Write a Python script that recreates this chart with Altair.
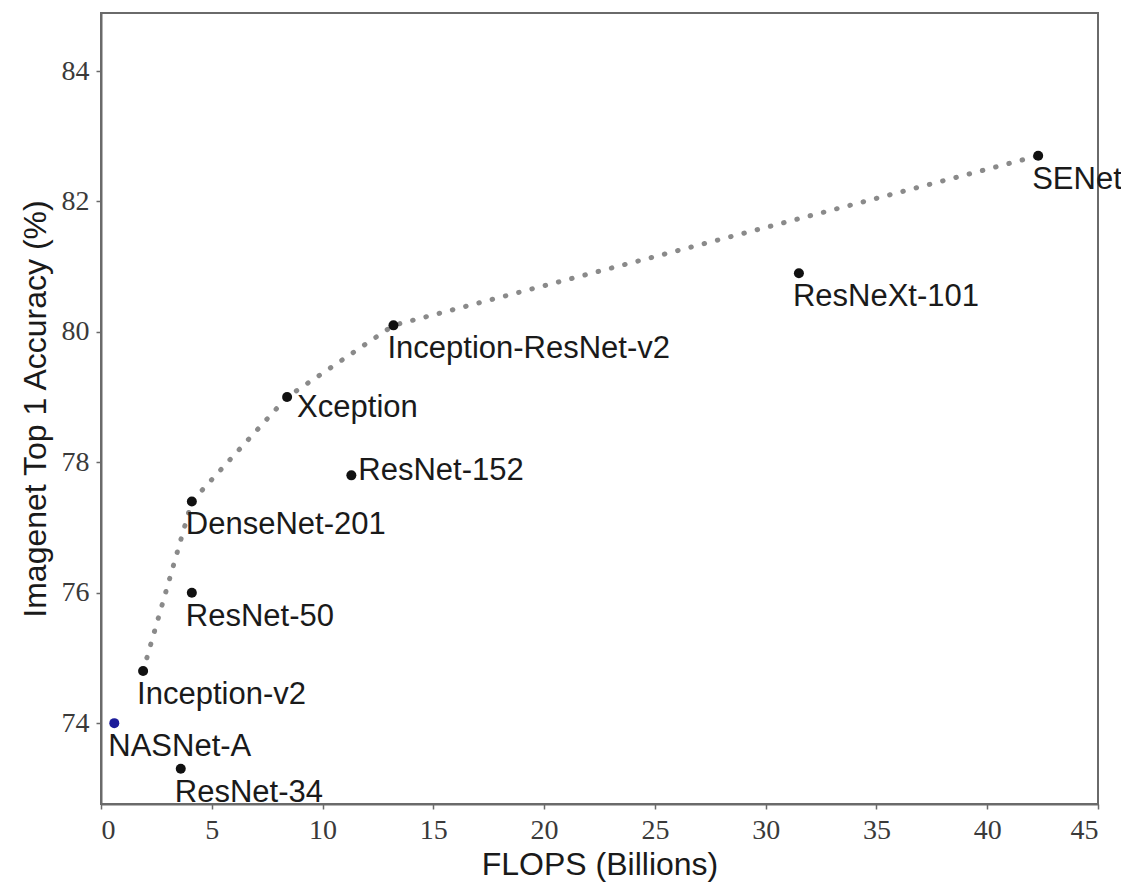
import altair as alt
import pandas as pd

# ---- data ----
models = ["NASNet-A", "Inception-v2", "ResNet-34", "ResNet-50", "DenseNet-201",
          "Xception", "ResNet-152", "Inception-ResNet-v2", "ResNeXt-101", "SENet"]
flops = [0.6, 1.9, 3.6, 4.1, 4.1, 8.4, 11.3, 13.2, 31.5, 42.3]
accuracy = [74.0, 74.8, 73.3, 76.0, 77.4, 79.0, 77.8, 80.1, 80.9, 82.7]

# models joined by the dotted frontier line
frontier = ["Inception-v2", "DenseNet-201", "Xception", "Inception-ResNet-v2", "SENet"]

x_ticks = [0, 5, 10, 15, 20, 25, 30, 35, 40, 45]
y_ticks = [74, 76, 78, 80, 82, 84]

df = pd.DataFrame({"model": models, "flops": flops, "acc": accuracy})
front_df = df[df["model"].isin(frontier)].sort_values("flops")

x_enc = alt.X("flops:Q",
              scale=alt.Scale(domain=[0, 45], nice=False, zero=False),
              axis=alt.Axis(values=x_ticks, title="FLOPS (Billions)", format="d"))
y_enc = alt.Y("acc:Q",
              scale=alt.Scale(domain=[72.76, 84.89], nice=False, zero=False),
              axis=alt.Axis(values=y_ticks, title="Imagenet Top 1 Accuracy (%)", format="d"))

line = alt.Chart(front_df).mark_line(
    color="#8a8a8a", strokeWidth=5, strokeCap="round", strokeDash=[0.5, 13.2],
    interpolate="linear"
).encode(x=x_enc, y=y_enc)

points = alt.Chart(df).mark_circle(size=100, opacity=1).encode(
    x=x_enc, y=y_enc,
    color=alt.condition(alt.datum.model == "NASNet-A",
                        alt.value("#1c1c9a"), alt.value("#111111")),
)

text_style = dict(font="Liberation Sans", fontSize=31, color="#1a1a1a")

below = alt.Chart(df).transform_filter(
    ~alt.FieldOneOfPredicate(field="model", oneOf=["Xception", "ResNet-152"])
).mark_text(align="left", baseline="top", dx=-6, dy=9, **text_style).encode(
    x=x_enc, y=y_enc, text="model:N")

right_low = alt.Chart(df).transform_filter(
    alt.datum.model == "Xception"
).mark_text(align="left", baseline="middle", dx=10, dy=11, **text_style).encode(
    x=x_enc, y=y_enc, text="model:N")

right_high = alt.Chart(df).transform_filter(
    alt.datum.model == "ResNet-152"
).mark_text(align="left", baseline="middle", dx=7, dy=-4, **text_style).encode(
    x=x_enc, y=y_enc, text="model:N")

chart = alt.layer(line, points, below, right_low, right_high).properties(
    width=997, height=791,
    autosize=alt.AutoSizeParams(type="none"),
    padding={"left": 101, "top": 13, "right": 23, "bottom": 87},
).configure_view(
    stroke="#6a6a6a", strokeWidth=2
).configure_axis(
    grid=False,
    domainColor="#6a6a6a", domainWidth=2,
    tickColor="#6a6a6a", tickSize=5, tickWidth=1.5,
    labelFont="Liberation Serif", labelFontSize=28, labelColor="#3a3a3a",
    labelPadding=7,
    titleFont="Liberation Sans", titleFontSize=32, titleFontWeight="normal",
    titleColor="#1a1a1a",
).configure_axisX(
    titlePadding=5
).configure_axisY(
    titlePadding=9
)

chart.save("out.html", embed_options={"renderer": "svg", "actions": False})
